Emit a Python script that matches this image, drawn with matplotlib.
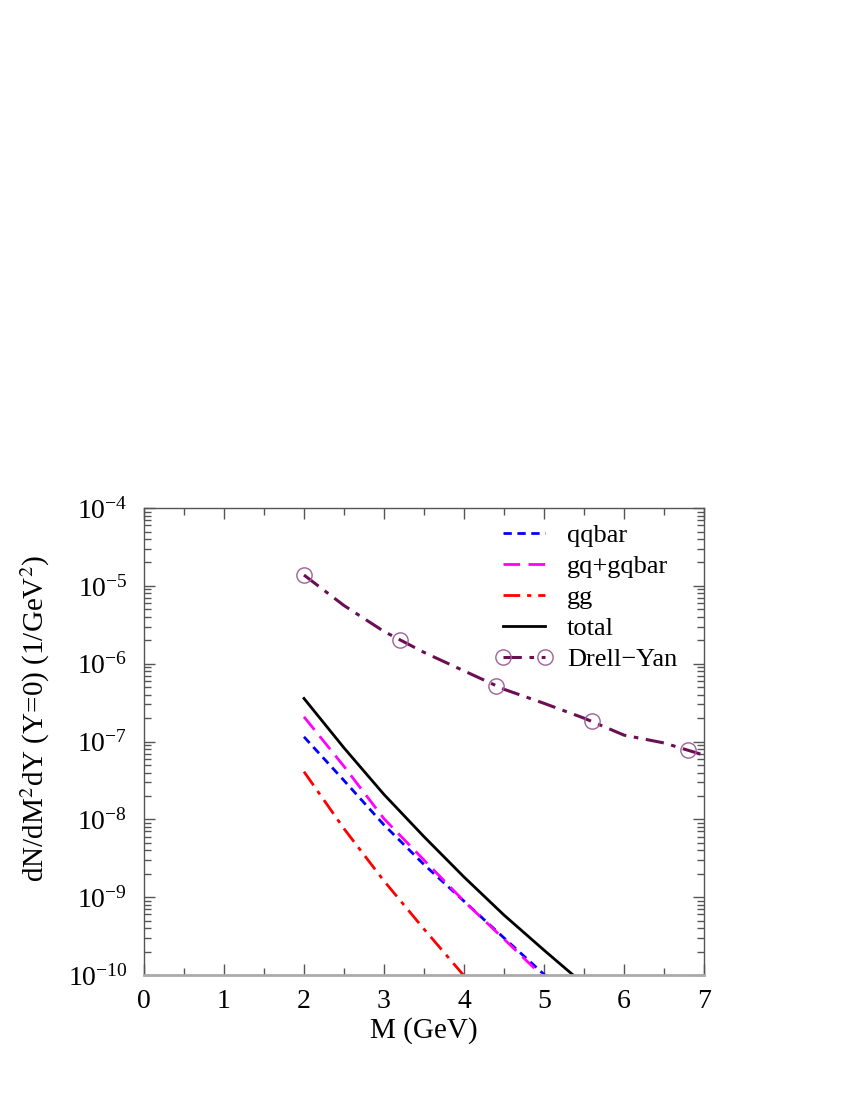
import numpy as np
import matplotlib
matplotlib.use('Agg')
import matplotlib.pyplot as plt
from matplotlib.lines import Line2D
from matplotlib.ticker import LogLocator, MultipleLocator, NullFormatter

plt.rcParams['font.family'] = ['Liberation Serif', 'DejaVu Serif']
plt.rcParams['mathtext.fontset'] = 'stix'

# Photon yields (log scale, 1/GeV^2)
m = [2.0, 2.5, 3.0, 3.5, 4.0, 4.5, 5.0, 5.5]
qqbar = [1.15e-7, 3.16e-8, 8.5e-9, 2.63e-9, 8.9e-10, 3.0e-10, 1.02e-10, 3.5e-11]
gq_gqbar = [2.08e-7, 4.8e-8, 1.02e-8, 3.0e-9, 8.9e-10, 2.9e-10, 9.3e-11, 3.0e-11]
gg = [4.1e-8, 7.6e-9, 1.62e-9, 3.9e-10, 9.8e-11, 2.5e-11, 6.0e-12, 1.5e-12]
total = [3.58e-7, 8.3e-8, 2.09e-8, 6.0e-9, 1.82e-9, 5.9e-10, 2.09e-10, 7.6e-11]

# Drell-Yan curve and its marked points
m_dy = [2.0, 2.5, 3.0, 3.5, 4.0, 4.5, 5.0, 5.5, 6.0, 6.5, 7.0]
dy = [1.38e-5, 5.6e-6, 2.6e-6, 1.4e-6, 8.1e-7, 4.7e-7, 3.1e-7, 2.0e-7, 1.21e-7, 9.6e-8, 6.7e-8]
m_dy_pts = [2.0, 3.2, 4.4, 5.6, 6.8]
dy_pts = [1.38e-5, 2.0e-6, 5.2e-7, 1.83e-7, 7.8e-8]

dy_line = '#6b0f52'
dy_mark = '#a0609a'

fig = plt.figure(figsize=(8.5, 11), dpi=100)
ax = fig.add_axes([0.1694, 0.1136, 0.6588, 0.4245])

ax.plot(m, qqbar, color='blue', lw=2, dashes=(3, 2), label='qqbar')
ax.plot(m, gq_gqbar, color='magenta', lw=2, dashes=(6, 3), label='gq+gqbar')
ax.plot(m, gg, color='red', lw=2, dashes=(6, 2.5, 1.5, 2.5), label='gg')
ax.plot(m, total, color='black', lw=2, label='total')
ax.plot(m_dy, dy, color=dy_line, lw=2.2, dashes=(6, 2.5, 1.5, 2.5))
ax.plot(m_dy_pts, dy_pts, ls='none', marker='o', ms=11, mfc='none',
        mec=dy_mark, mew=1)

handles, labels = ax.get_legend_handles_labels()
handles.append(Line2D([], [], color=dy_line, lw=2.2, dashes=(6, 2.5, 1.5, 2.5),
                      marker='o', ms=11, mfc='none', mec=dy_mark, mew=1))
labels.append('Drell\u2212Yan')
ax.legend(handles, labels, loc='upper left', frameon=False, fontsize=19,
          handlelength=2.2, handletextpad=0.53, labelspacing=0.28, numpoints=2,
          bbox_to_anchor=(0.627, 0.966), borderaxespad=0, borderpad=0)

ax.set_xlim(0, 7)
ax.set_yscale('log')
ax.set_ylim(1e-10, 1e-4)
ax.xaxis.set_major_locator(MultipleLocator(1))
ax.xaxis.set_minor_locator(MultipleLocator(0.5))
ax.yaxis.set_major_locator(LogLocator(base=10, numticks=10))
ax.yaxis.set_minor_locator(LogLocator(base=10, subs=np.arange(2, 10), numticks=10))
ax.yaxis.set_minor_formatter(NullFormatter())

ax.tick_params(which='both', direction='in', top=True, right=True,
               colors='#555555', labelcolor='black', labelsize=20)
ax.tick_params(which='major', length=8, width=1)
ax.tick_params(which='minor', length=5, width=1)
ax.tick_params(axis='x', pad=10)
ax.tick_params(axis='y', pad=12)

for side in ['left', 'top', 'right']:
    ax.spines[side].set_color('#555555')
    ax.spines[side].set_linewidth(1)
ax.spines['bottom'].set_color('#aaaaaa')
ax.spines['bottom'].set_linewidth(2)

ax.set_xlabel('M (GeV)', fontsize=21, labelpad=2)
ax.set_ylabel('dN/dM$^2$dY (Y=0) (1/GeV$^2$)', fontsize=21)
ax.yaxis.set_label_coords(-0.164, 0.55)

fig.savefig('out.png', dpi=100)
